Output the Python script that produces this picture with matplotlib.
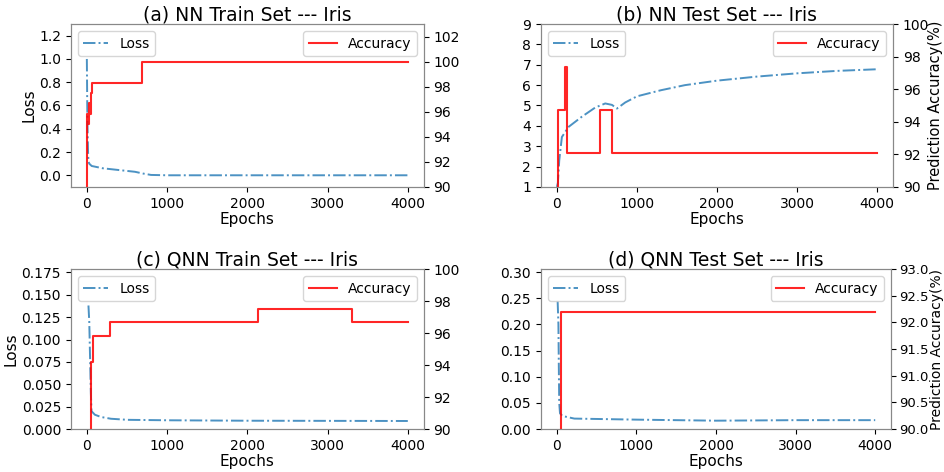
import matplotlib
matplotlib.use('Agg')
import matplotlib.pyplot as plt

# loss curves (epoch, value)
nn_train_loss_ep = [0, 5, 10, 15, 20, 30, 60, 200, 400, 600, 700, 800, 1000, 4000]
nn_train_loss = [1.0, 0.6, 0.35, 0.2, 0.12, 0.1, 0.08, 0.06, 0.045, 0.03, 0.015, 0.003, 0.0, 0.0]
nn_train_acc_ep = [0, 8, 20, 30, 40, 53, 70, 690, 4000]
nn_train_acc = [88, 95.83, 95.0, 96.67, 95.83, 97.5, 98.33, 100, 100]

nn_test_loss_ep = [0, 12, 29, 62, 146, 312, 479, 604, 688, 750, 854, 1000, 1300, 1600, 2000, 2500, 3000, 3500, 4000]
nn_test_loss = [1.0, 1.2, 2.3, 3.45, 3.95, 4.45, 4.9, 5.1, 5.03, 4.85, 5.15, 5.45, 5.75, 6.0, 6.22, 6.42, 6.58, 6.7, 6.78]
nn_test_acc_ep = [0, 12, 100, 125, 533, 690, 4000]
nn_test_acc = [88, 94.74, 97.37, 92.11, 94.74, 92.11, 92.11]

qnn_train_loss_ep = [20, 30, 40, 50, 58, 100, 175, 300, 508, 1000, 2000, 4000]
qnn_train_loss = [0.138, 0.12, 0.08, 0.04, 0.02, 0.016, 0.0135, 0.0115, 0.0103, 0.0098, 0.0093, 0.009]
qnn_train_acc_ep = [0, 50, 79, 290, 2130, 3300, 4000]
qnn_train_acc = [88, 94.17, 95.83, 96.67, 97.5, 96.67, 96.67]

qnn_test_loss_ep = [10, 20, 25, 30, 40, 70, 220, 1000, 2000, 3000, 4000]
qnn_test_loss = [0.245, 0.2, 0.12, 0.05, 0.03, 0.025, 0.02, 0.018, 0.016, 0.017, 0.017]
qnn_test_acc_ep = [0, 55, 4000]
qnn_test_acc = [89, 92.2, 92.2]

titles = ['(a) NN Train Set --- Iris', '(b) NN Test Set --- Iris',
          '(c) QNN Train Set --- Iris', '(d) QNN Test Set --- Iris']

panels = [
    (nn_train_loss_ep, nn_train_loss, nn_train_acc_ep, nn_train_acc, (-0.1, 1.3), (90, 103)),
    (nn_test_loss_ep, nn_test_loss, nn_test_acc_ep, nn_test_acc, (1, 9), (90, 100)),
    (qnn_train_loss_ep, qnn_train_loss, qnn_train_acc_ep, qnn_train_acc, (0, 0.1787), (90, 100)),
    (qnn_test_loss_ep, qnn_test_loss, qnn_test_acc_ep, qnn_test_acc, (0, 0.306), (90, 93)),
]

rects = [
    [0.075, 0.604, 0.374, 0.345],
    [0.573, 0.604, 0.373, 0.345],
    [0.075, 0.091, 0.374, 0.339],
    [0.573, 0.091, 0.371, 0.339],
]

plt.rcParams['font.family'] = ['DejaVu Sans']
fig = plt.figure(figsize=(9.44, 4.72), dpi=100)

for i, (lx, ly, ax_, ay, ylim1, ylim2) in enumerate(panels):
    ax = fig.add_axes(rects[i])
    ax.plot(lx, ly, '-.', color='#1f77b4', alpha=0.8, lw=1.4, label='Loss')
    ax.set_ylim(*ylim1)
    ax.set_xlim(-200, 4200)
    ax.set_xticks([0, 1000, 2000, 3000, 4000])
    ax.set_xlabel('Epochs', fontsize=11, labelpad=1)
    ax.tick_params(labelsize=10)
    if i == 0:
        ax.set_yticks([0.0, 0.2, 0.4, 0.6, 0.8, 1.0, 1.2])
    if i == 1:
        ax.set_yticks(range(1, 10))
    if i == 2:
        ax.set_yticks([0, 0.025, 0.05, 0.075, 0.1, 0.125, 0.15, 0.175])
        ax.set_yticklabels(['0.000', '0.025', '0.050', '0.075', '0.100', '0.125', '0.150', '0.175'])
    if i == 3:
        ax.set_yticks([0, 0.05, 0.1, 0.15, 0.2, 0.25, 0.3])
    if i % 2 == 0:
        ax.set_ylabel('Loss', fontsize=11, labelpad=2)
    ax.legend(loc='upper left', fontsize=10, handlelength=1.8)
    ax.set_title(titles[i], fontsize=13.5, pad=2)
    for s in ax.spines.values():
        s.set_color('#888888')

    ax2 = ax.twinx()
    ax2.plot(ax_, ay, color='r', alpha=0.85, lw=1.5, drawstyle='steps-post', label='Accuracy')
    ax2.set_ylim(*ylim2)
    ax2.tick_params(labelsize=10)
    if i == 0:
        ax2.set_yticks([90, 92, 94, 96, 98, 100, 102])
    if i == 1:
        ax2.set_ylabel('Prediction Accuracy(%)', fontsize=10.5)
        ax2.yaxis.set_label_coords(1.098, 0.5)
    if i == 3:
        ax2.set_yticks([90.0, 90.5, 91.0, 91.5, 92.0, 92.5, 93.0])
        ax2.set_yticklabels(['90.0', '90.5', '91.0', '91.5', '92.0', '92.5', '93.0'])
        ax2.tick_params(labelsize=9.5, pad=2.5)
        ax2.set_ylabel('Prediction Accuracy(%)', fontsize=10)
        ax2.yaxis.set_label_coords(1.112, 0.5)
    ax2.legend(loc='upper right', fontsize=10)
    for s in ax2.spines.values():
        s.set_color('#888888')

fig.savefig('out.png', dpi=100)
